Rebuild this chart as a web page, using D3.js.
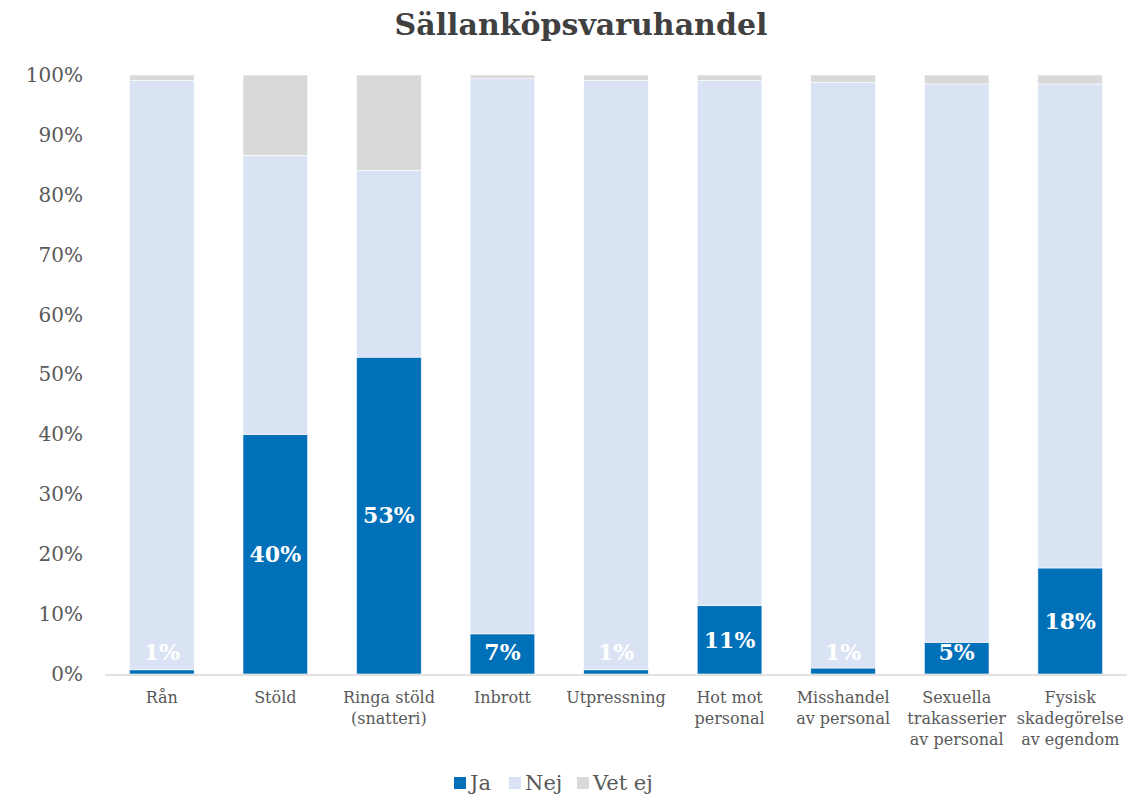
<!DOCTYPE html>
<html>
<head>
<meta charset="utf-8">
<script src="https://cdn.jsdelivr.net/npm/d3@7"></script>
<style>
  body { margin: 0; background: #fff; }
  svg text { font-family: "DejaVu Serif", Georgia, serif; }
</style>
</head>
<body>
<div id="chart"></div>
<script>
const categories = [
  "Rån", "Stöld", "Ringa stöld\n(snatteri)", "Inbrott", "Utpressning",
  "Hot mot\npersonal", "Misshandel\nav personal", "Sexuella\ntrakasserier\nav personal",
  "Fysisk\nskadegörelse\nav egendom"
];
const ja    = [0.7, 40.0, 52.9, 6.7, 0.7, 11.4, 1.0, 5.3, 17.7];
const nej   = [98.4, 46.6, 31.2, 92.7, 98.4, 87.7, 97.8, 93.2, 80.8];
const vetEj = [0.9, 13.4, 15.9, 0.6, 0.9, 0.9, 1.2, 1.5, 1.5];
const jaLabels = ["1%", "40%", "53%", "7%", "1%", "11%", "1%", "5%", "18%"];
const seriesNames = ["Ja", "Nej", "Vet ej"];
const colors = ["#0070B8", "#DAE3F3", "#D9D9D9"];
const yTicks = [0, 10, 20, 30, 40, 50, 60, 70, 80, 90, 100];

const width = 1148, height = 798;
const margin = { top: 75, right: 21, bottom: 124, left: 105 };

const rows = categories.map((c, i) => ({ cat: c, Ja: ja[i], Nej: nej[i], "Vet ej": vetEj[i] }));
const stacked = d3.stack().keys(seriesNames)(rows);

const svg = d3.select("#chart").append("svg")
  .attr("width", width)
  .attr("height", height);

const x = d3.scaleBand()
  .domain(categories)
  .range([margin.left, width - margin.right])
  .paddingInner(0.43)
  .paddingOuter(0.215);

const y = d3.scaleLinear()
  .domain([0, 100])
  .range([height - margin.bottom, margin.top]);

// title
svg.append("text")
  .attr("x", 581)
  .attr("y", 35)
  .attr("text-anchor", "middle")
  .style("font-size", "30px")
  .style("font-weight", "bold")
  .style("fill", "#404040")
  .text("Sällanköpsvaruhandel");

// y axis
const yAxis = svg.append("g")
  .attr("transform", "translate(" + (margin.left - 22) + ",0)")
  .call(d3.axisLeft(y).tickValues(yTicks).tickFormat(d => d + "%").tickSize(0));
yAxis.select(".domain").remove();
yAxis.selectAll("text")
  .style("font-size", "20px")
  .style("fill", "#595959")
  .attr("x", 0);

// bars
svg.append("g")
  .selectAll("g")
  .data(stacked)
  .enter()
  .append("g")
  .attr("fill", (d, i) => colors[i])
  .selectAll("rect")
  .data(d => d)
  .enter()
  .append("rect")
  .attr("x", d => x(d.data.cat))
  .attr("width", x.bandwidth())
  .attr("y", d => y(Math.min(d[1], 100)))
  .attr("height", d => y(d[0]) - y(Math.min(d[1], 100)))
  .attr("stroke", "#fff")
  .attr("stroke-width", 0.6);

// x axis line
svg.append("line")
  .attr("x1", margin.left)
  .attr("x2", width - margin.right)
  .attr("y1", y(0) + 1)
  .attr("y2", y(0) + 1)
  .attr("stroke", "#D9D9D9")
  .attr("stroke-width", 1.5);

// category labels
const xl = svg.append("g")
  .selectAll("text")
  .data(categories)
  .enter()
  .append("text")
  .attr("text-anchor", "middle")
  .attr("transform", d => "translate(" + (x(d) + x.bandwidth() / 2) + "," + (y(0) + 29) + ")")
  .style("font-size", "16px")
  .style("fill", "#595959");
xl.selectAll("tspan")
  .data(d => d.split("\n"))
  .enter()
  .append("tspan")
  .attr("x", 0)
  .attr("dy", (d, i) => i === 0 ? 0 : 21)
  .text(d => d);

// data labels for Ja
svg.append("g")
  .selectAll("text")
  .data(stacked[0])
  .enter()
  .append("text")
  .attr("x", d => x(d.data.cat) + x.bandwidth() / 2)
  .attr("y", d => Math.min((y(d[0]) + y(d[1])) / 2, y(0) - 22))
  .attr("dy", "0.35em")
  .attr("text-anchor", "middle")
  .style("font-size", "22px")
  .style("font-weight", "bold")
  .style("fill", "#fff")
  .text((d, i) => jaLabels[i]);

// legend
const legendX = [454, 509, 577];
const legend = svg.append("g")
  .selectAll("g")
  .data(seriesNames)
  .enter()
  .append("g")
  .attr("transform", (d, i) => "translate(" + legendX[i] + ",777)");
legend.append("rect")
  .attr("width", 12)
  .attr("height", 12)
  .attr("fill", (d, i) => colors[i]);
legend.append("text")
  .attr("x", 16)
  .attr("y", 6)
  .attr("dy", "0.35em")
  .style("font-size", "21px")
  .style("fill", "#595959")
  .text(d => d);
</script>
</body>
</html>
